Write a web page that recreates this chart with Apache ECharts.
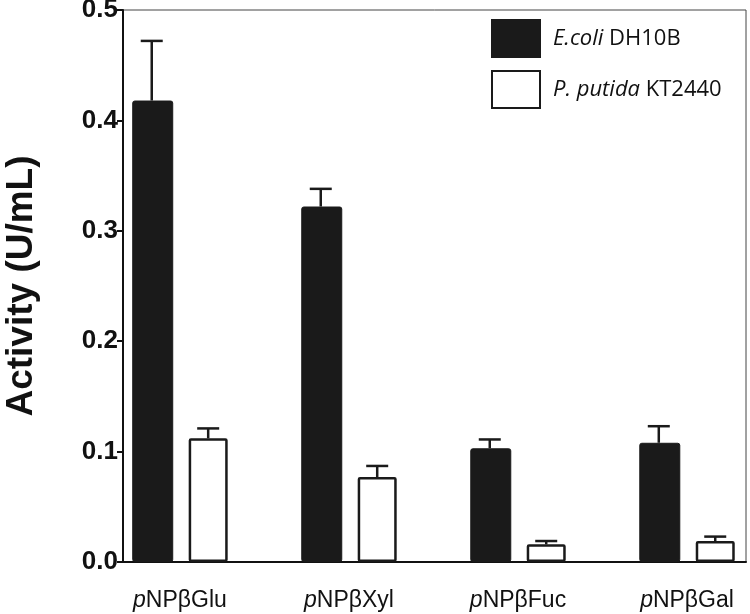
<!DOCTYPE html>
<html>
	<head>
		<meta charset="utf-8">
		<title></title>
		<script src="https://cdn.jsdelivr.net/npm/echarts@6/dist/echarts.min.js"></script>
	</head>
	<body style="margin:0;">
		<div id="main" style="width: 750px;height:614px;"></div>
		<script>
			// substrates on the x axis
			var substrates = ['Glu', 'Xyl', 'Fuc', 'Gal'];
			// activity (U/mL)
			var ecoliMean = [0.418, 0.322, 0.103, 0.108];
			var ecoliErr = [0.054, 0.016, 0.008, 0.015];
			var putidaMean = [0.112, 0.077, 0.016, 0.019];
			var putidaErr = [0.009, 0.010, 0.003, 0.004];

			var shift = 0.167; // half distance between the two bars of a group (in category units)
			var fontA = '"Liberation Sans", Arial, sans-serif';

			function barData(vals, dx) {
				return vals.map(function(v, i) { return [i + dx, v]; });
			}
			function errData(vals, errs, dx) {
				return vals.map(function(v, i) { return [i + dx, v, errs[i]]; });
			}
			function renderErr(params, api) {
				var x = api.value(0), y = api.value(1), e = api.value(2);
				var p0 = api.coord([x, y]);
				var p1 = api.coord([x, y + e]);
				var style = { stroke: '#1a1a1a', lineWidth: 2.5 };
				return {
					type: 'group',
					children: [
						{ type: 'line', shape: { x1: p0[0], y1: p0[1], x2: p1[0], y2: p1[1] }, style: style },
						{ type: 'line', shape: { x1: p1[0] - 11, y1: p1[1], x2: p1[0] + 11, y2: p1[1] }, style: style }
					]
				};
			}

			var myChart = echarts.init(document.getElementById('main'));
			var option = {
				animation: false,
				grid: {
					left: 123, right: 4, top: 10, bottom: 52,
					outerBoundsMode: 'none',
					containLabel: false,
					show: true, borderColor: '#444', borderWidth: 1
				},
				legend: {
					left: 491, top: 19, padding: 0,
					orient: 'vertical',
					itemWidth: 48, itemHeight: 37, itemGap: 12,
					icon: 'rect',
					formatter: function(name) {
						return name === 'E.coli DH10B' ? '{i|E.coli} {n|DH10B}' : '{i|P. putida} {n|KT2440}';
					},
					textStyle: {
						fontFamily: '"Open Sans", sans-serif', fontSize: 22, color: '#111',
						rich: {
							i: { fontStyle: 'italic', fontFamily: '"Open Sans", sans-serif', fontSize: 22, color: '#111', padding: [0, 0, 0, 8] },
							n: { fontFamily: '"Open Sans", sans-serif', fontSize: 22, color: '#111' }
						}
					},
					data: ['E.coli DH10B', 'P. putida KT2440']
				},
				xAxis: {
					type: 'value',
					min: -0.337, max: 3.349,
					splitLine: { show: false },
					axisLine: { lineStyle: { color: '#111', width: 2 } },
					axisTick: { show: false },
					axisLabel: {
						customValues: [0, 1, 2, 3],
						margin: 27,
						formatter: function(v) { return '{i|p}NPβ' + substrates[Math.round(v)]; },
						fontFamily: fontA, fontSize: 23, color: '#111',
						rich: { i: { fontStyle: 'italic', fontFamily: fontA, fontSize: 23, color: '#111' } }
					}
				},
				yAxis: {
					type: 'value',
					min: 0, max: 0.5, interval: 0.1,
					name: 'Activity (U/mL)',
					nameLocation: 'middle',
					nameGap: 83,
					nameTextStyle: { fontFamily: fontA, fontWeight: 'bold', fontSize: 37, color: '#111' },
					splitLine: { show: false },
					axisLine: { show: true, onZero: false, lineStyle: { color: '#111', width: 2 } },
					axisTick: { show: true, length: 6, lineStyle: { color: '#111', width: 2 } },
					axisLabel: {
						margin: 5,
						formatter: function(v) { return v.toFixed(1); },
						fontFamily: fontA, fontWeight: 'bold', fontSize: 26, color: '#111'
					}
				},
				series: [
					{
						name: 'E.coli DH10B', type: 'bar',
						barWidth: 41, barGap: '-100%',
						itemStyle: { color: '#1a1a1a', borderColor: '#1a1a1a', borderWidth: 1, borderRadius: 2 },
						data: barData(ecoliMean, -shift)
					},
					{
						name: 'P. putida KT2440', type: 'bar',
						barWidth: 39, barGap: '-100%',
						itemStyle: { color: '#fff', borderColor: '#1a1a1a', borderWidth: 2.5, borderRadius: 1 },
						data: barData(putidaMean, shift)
					},
					{
						type: 'custom', renderItem: renderErr, z: 1,
						data: errData(ecoliMean, ecoliErr, -shift)
					},
					{
						type: 'custom', renderItem: renderErr, z: 1,
						data: errData(putidaMean, putidaErr, shift)
					}
				]
			};
			myChart.setOption(option);
		</script>
	</body>
</html>
